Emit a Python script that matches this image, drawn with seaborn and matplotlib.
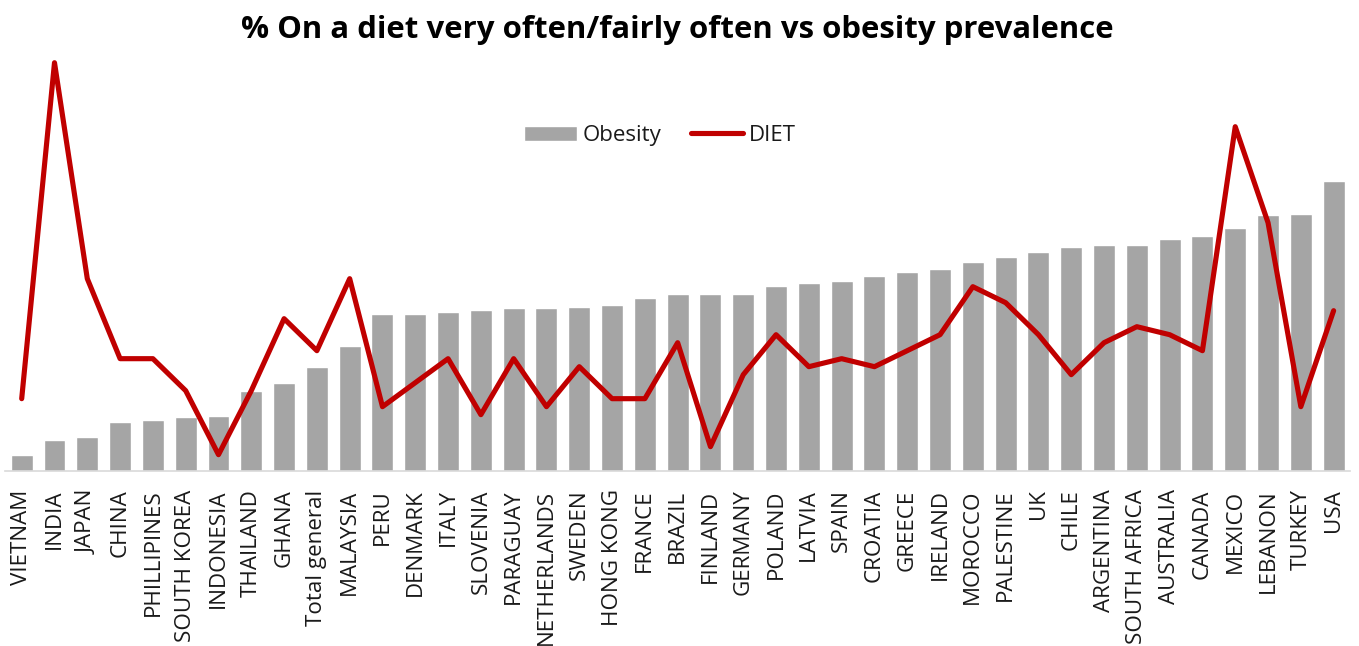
import matplotlib
matplotlib.use("Agg")
import matplotlib.pyplot as plt
import numpy as np
import pandas as pd
import seaborn as sns

countries = [
    "VIETNAM", "INDIA", "JAPAN", "CHINA", "PHILLIPINES", "SOUTH KOREA",
    "INDONESIA", "THAILAND", "GHANA", "Total general", "MALAYSIA", "PERU",
    "DENMARK", "ITALY", "SLOVENIA", "PARAGUAY", "NETHERLANDS", "SWEDEN",
    "HONG KONG", "FRANCE", "BRAZIL", "FINLAND", "GERMANY", "POLAND",
    "LATVIA", "SPAIN", "CROATIA", "GREECE", "IRELAND", "MOROCCO",
    "PALESTINE", "UK", "CHILE", "ARGENTINA", "SOUTH AFRICA", "AUSTRALIA",
    "CANADA", "MEXICO", "LEBANON", "TURKEY", "USA",
]

# Obesity prevalence (%)
obesity = [
    2.0, 3.8, 4.2, 6.1, 6.3, 6.7, 6.8, 10.0, 10.9, 12.9, 15.6, 19.6,
    19.6, 19.8, 20.1, 20.3, 20.3, 20.5, 20.7, 21.6, 22.1, 22.1, 22.1, 23.1,
    23.5, 23.7, 24.3, 24.8, 25.2, 26.1, 26.7, 27.3, 27.9, 28.2, 28.2, 28.9,
    29.3, 30.3, 31.9, 32.1, 36.2,
]

# % on a diet very often / fairly often
diet = [
    9, 51, 24, 14, 14, 10, 2, 10, 19, 15, 24, 8,
    11, 14, 7, 14, 8, 13, 9, 9, 16, 3, 12, 17,
    13, 14, 13, 15, 17, 23, 21, 17, 12, 16, 18, 17,
    15, 43, 31, 8, 20,
]

title = "% On a diet very often/fairly often vs obesity prevalence"

df = pd.DataFrame({"country": countries, "Obesity": obesity, "DIET": diet})
df["pos"] = np.arange(len(df))

sns.set_theme(style="white")
plt.rcParams["font.family"] = ["Open Sans", "DejaVu Sans"]

fig = plt.figure(figsize=(13.59, 6.46), dpi=100)
ax = fig.add_axes([0.0039, 0.2714, 0.9895, 0.6687])

sns.barplot(data=df, x="country", y="Obesity", color="#A5A5A5",
            saturation=1, width=0.67, ax=ax, label="Obesity")
sns.lineplot(data=df, x="pos", y="DIET", color="#C00000", linewidth=3.7,
             ax=ax, label="DIET", solid_capstyle="round",
             solid_joinstyle="round")

ax.set_xlim(-0.5, len(df) - 0.5)
ax.set_ylim(0, 54)
ax.set_xlabel("")
ax.set_ylabel("")
ax.set_yticks([])
ax.set_xticks(df["pos"])
ax.set_xticklabels(countries, rotation=90, fontsize=16.1, color="#1a1a1a")
ax.tick_params(axis="x", length=0, pad=13.5)

for side in ("top", "right", "left"):
    ax.spines[side].set_visible(False)
ax.spines["bottom"].set_color("#D9D9D9")
ax.spines["bottom"].set_linewidth(1.2)

ax.get_legend().remove()
handles, labels = ax.get_legend_handles_labels()
order = [labels.index("Obesity"), labels.index("DIET")]
fig.legend([handles[i] for i in order], [labels[i] for i in order],
           loc="center", bbox_to_anchor=(0.4857, 0.79),
           ncol=2, frameon=False, fontsize=16, handlelength=2.35,
           handletextpad=0.25, columnspacing=1.35, labelcolor="#1a1a1a")

fig.text(0.4985, 0.954, title, ha="center", va="center",
         fontsize=22.4, fontweight="bold", color="black")

fig.savefig("out.png", dpi=100)
